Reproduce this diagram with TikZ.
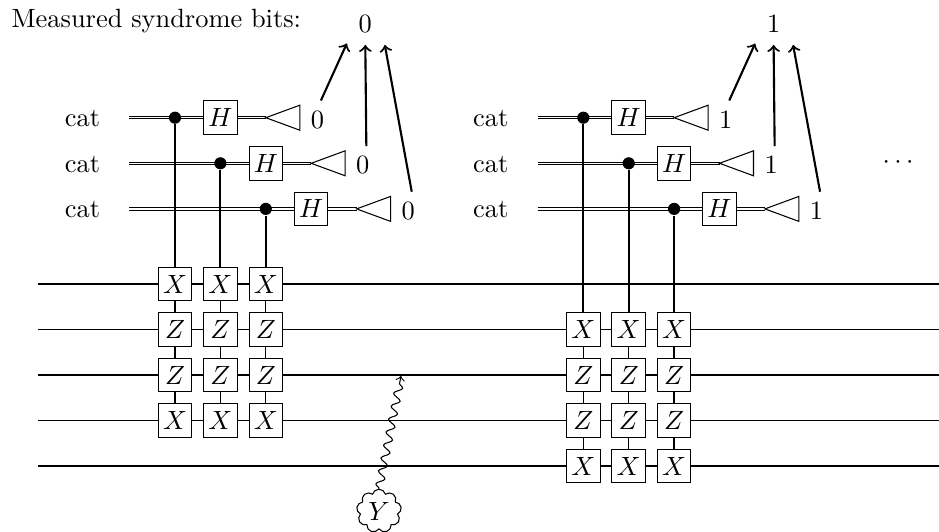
\documentclass[tikz,border=0pt]{standalone}
\usetikzlibrary{calc,shapes.symbols,decorations.pathmorphing}
\begin{document}
\begin{tikzpicture}[x=0.3788pt,y=-0.3788pt,
  wire/.style={line width=0.4pt},
  cwire/.style={double, double distance=0.6pt, line width=0.35pt},
  gate/.style={draw, fill=white, line width=0.4pt, minimum size=12.7pt, inner sep=0pt},
  ctrldot/.style={circle, fill=black, inner sep=0pt, minimum size=4.6pt},
  ctrlline/.style={line width=0.75pt},
  link/.style={line width=0.5pt},
  meas/.style={line width=0.4pt},
  synarrow/.style={line width=0.8pt, ->},
  lbl/.style={inner sep=0pt},
  errcloud/.style={cloud, draw, cloud puffs=9, aspect=1, minimum width=17pt, minimum height=16.5pt, inner sep=0pt, line width=0.4pt},
]
\useasboundingbox (0,0) rectangle (939,531);
\node[lbl, anchor=base west] (title) at (11,27.3) {Measured syndrome bits:};
% data wires
\foreach \i in {0,...,4}{
  \coordinate (wl\i) at (38,{284+45.5*\i});
  \coordinate (wr\i) at (939,{284+45.5*\i});
  \draw[wire] (wl\i) -- (wr\i);
}
\foreach \g/\off/\rs/\bit in {L/0/0/0, R/408.3/1/1}{
  \node[lbl, anchor=base] (top\g) at ({365.3+\off},33) {$\bit$};
  % cat wires, H gates, measurements
  \foreach \k in {1,2,3}{
    \pgfmathsetmacro{\cy}{117.7+45.6*(\k-1)}
    \pgfmathsetmacro{\cx}{175+\off+45.4*(\k-1)}
    \pgfmathsetmacro{\hx}{\cx+45.4}
    \pgfmathsetmacro{\tx}{\cx+90.8}
    \node[lbl, anchor=base] (cat\g\k) at ({82.5+\off},{\cy+9}) {cat};
    \coordinate (cs\g\k) at ({129.3+\off},\cy);
    \coordinate (tip\g\k) at (\tx,\cy);
    \draw[cwire] (cs\g\k) -- (tip\g\k);
    \draw[meas] (tip\g\k) -- ++(34,-12.5) -- ++(0,25) -- cycle;
    \node[lbl, anchor=base west] (m\g\k) at ({\tx+44.5},{\cy+10.3}) {$\bit$};
    \node[gate] (H\g\k) at (\hx,\cy) {$H$};
  }
  % stabilizer gates
  \foreach \j in {1,2,3}{
    \pgfmathsetmacro{\gx}{175+\off+45.4*(\j-1)}
    \foreach \lab [count=\i from 0] in {X,Z,Z,X}{
      \pgfmathsetmacro{\gy}{284+45.5*(\i+\rs)}
      \node[gate] (g\g\j\i) at (\gx,\gy) {$\lab$};
    }
    \draw[link] (g\g\j0.south) -- (g\g\j1.north);
    \draw[link] (g\g\j1.south) -- (g\g\j2.north);
    \draw[link] (g\g\j2.south) -- (g\g\j3.north);
    \pgfmathsetmacro{\cy}{117.7+45.6*(\j-1)}
    \node[ctrldot] (d\g\j) at (\gx,\cy) {};
    \draw[ctrlline] (d\g\j) -- (g\g\j0.north);
  }
  \draw[synarrow] ($(m\g1)+(3.5,-19)$) -- ($(top\g)+(-18.5,19)$);
  \draw[synarrow] ($(m\g2)+(3.5,-19)$) -- ($(top\g)+(0,20.5)$);
  \draw[synarrow] ($(m\g3)+(3.5,-19)$) -- ($(top\g)+(19.5,20.5)$);
}
\node (dots) at (898,163) {$\cdots$};
% error
\node[errcloud] (err) at (379,511) {$Y$};
\coordinate (hit) at (401,376);
\draw[->, line width=0.4pt, decorate, decoration={snake, amplitude=1.5pt, segment length=5pt, post length=2pt}] (err.north) -- (hit);
\end{tikzpicture}
\end{document}
